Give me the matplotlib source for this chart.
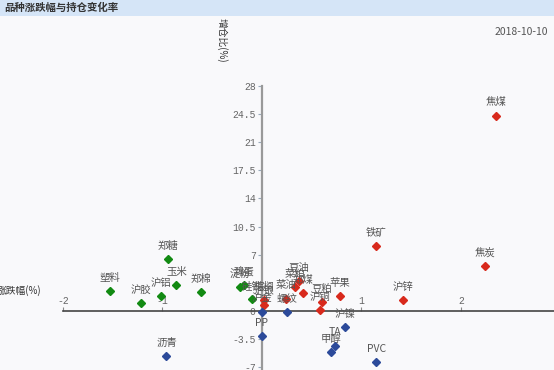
import matplotlib
matplotlib.use('Agg')
import matplotlib.pyplot as plt
import matplotlib.transforms as mtransforms
from matplotlib.patches import Rectangle

plt.rcParams['font.family'] = ['Noto Sans CJK SC', 'DejaVu Sans']

# 品种, 涨跌幅(%), 增仓比(%)
names = ['焦煤', '焦炭', '铁矿', '沪锌', '苹果', '豆粕', '沪铜', '郑煤', '豆油', '菜粕',
         '菜油', '棕榈', '沪银', '塑料', '沪胶', '郑糖', '沪铝', '玉米', '郑棉', '淀粉',
         '鸡蛋', '硅铁', '沥青', 'PP', '沪金', '螺纹', '沪镍', 'TA', '甲醇', 'PVC']
change = [2.35, 2.24, 1.15, 1.42, 0.78, 0.60, 0.58, 0.41, 0.37, 0.33,
          0.24, 0.02, 0.025, -1.53, -1.22, -0.94, -1.01, -0.86, -0.61, -0.22,
          -0.18, -0.10, -0.96, 0.0, 0.0, 0.25, 0.83, 0.73, 0.69, 1.15]
oi_ratio = [24.3, 5.56, 8.12, 1.37, 1.9, 1.12, 0.09, 2.24, 3.73, 2.95,
            1.55, 1.37, 0.8, 2.45, 0.96, 6.43, 1.87, 3.23, 2.36, 3.02,
            3.23, 1.49, -5.6, -3.1, -0.08, -0.12, -2.03, -4.3, -5.14, -6.34]

yticks = [-7, -3.5, 0, 7, 10.5, 14, 17.5, 21, 24.5, 28]
xticks = [-2, -1, 1, 2]
date = '2018-10-10'
title = '品种涨跌幅与持仓变化率'


def color_of(x, y):
    if y <= 0:
        return '#2c4a9a'
    if x < 0:
        return '#128a12'
    return '#d8291c'


fig = plt.figure(figsize=(5.54, 3.70), dpi=100)
fig.patch.set_facecolor('#f9f9fb')
# title bar
fig.patches.append(Rectangle((0, 1 - 16 / 370), 1, 16 / 370, transform=fig.transFigure,
                             facecolor='#d5e5f7', edgecolor='none', zorder=0))
fig.text(4 / 554, 1 - 8 / 370, title, fontsize=7.5, color='#333333',
         fontweight='bold', va='center', ha='left')

ax = fig.add_axes([0, 0, 1, 354 / 370])
ax.set_facecolor('none')
ax.set_xlim(-2.633, 2.935)
ax.set_ylim(-7.34, 36.69)

ax.spines['right'].set_visible(False)
ax.spines['bottom'].set_visible(False)
ax.spines['left'].set_position(('data', 0))
ax.spines['left'].set_bounds(-7.34, 28)
ax.spines['left'].set_color('#999999')
ax.spines['left'].set_linewidth(1.6)
ax.spines['top'].set_position(('data', 0))
ax.spines['top'].set_bounds(-2, 2.935)
ax.spines['top'].set_color('#444444')
ax.spines['top'].set_linewidth(1.2)

ax.xaxis.set_ticks_position('top')
ax.set_xticks(xticks)
ax.set_xticklabels([str(t) for t in xticks])
ax.tick_params(axis='x', direction='out', length=3, width=0.8, color='#888888',
               pad=0.5, labelsize=7, labelcolor='#666666')
ax.set_yticks(yticks)
ax.set_yticklabels([('%g' % t) for t in yticks])
ax.tick_params(axis='y', direction='out', length=3, width=0.8, color='#99aabb',
               pad=1.5, labelsize=7, labelcolor='#666666')
for lab in ax.get_xticklabels() + ax.get_yticklabels():
    lab.set_family('Liberation Mono')

for n, x, y in zip(names, change, oi_ratio):
    c = color_of(x, y)
    ax.plot(x, y, marker='D', markersize=3.6, color=c, linestyle='none', zorder=3)
    ax.annotate(n, (x, y), xytext=(0, 9.5), textcoords='offset points',
                ha='center', va='center', fontsize=7.5, color='#555555', zorder=4)

ax.text(-0.40, 33.7, '增仓比(%)', rotation=-90, ha='center', va='center',
        fontsize=7, color='#333333')
trans = mtransforms.blended_transform_factory(fig.transFigure, ax.transData)
ax.text(-3 / 554, 2.6, '涨跌幅(%)', transform=trans, ha='left', va='center',
        fontsize=7, color='#333333')
fig.text(548 / 554, 1 - 32 / 370, date, ha='right', va='center', fontsize=7.5,
         color='#555555')

fig.savefig('out.png', dpi=100, facecolor=fig.get_facecolor())
